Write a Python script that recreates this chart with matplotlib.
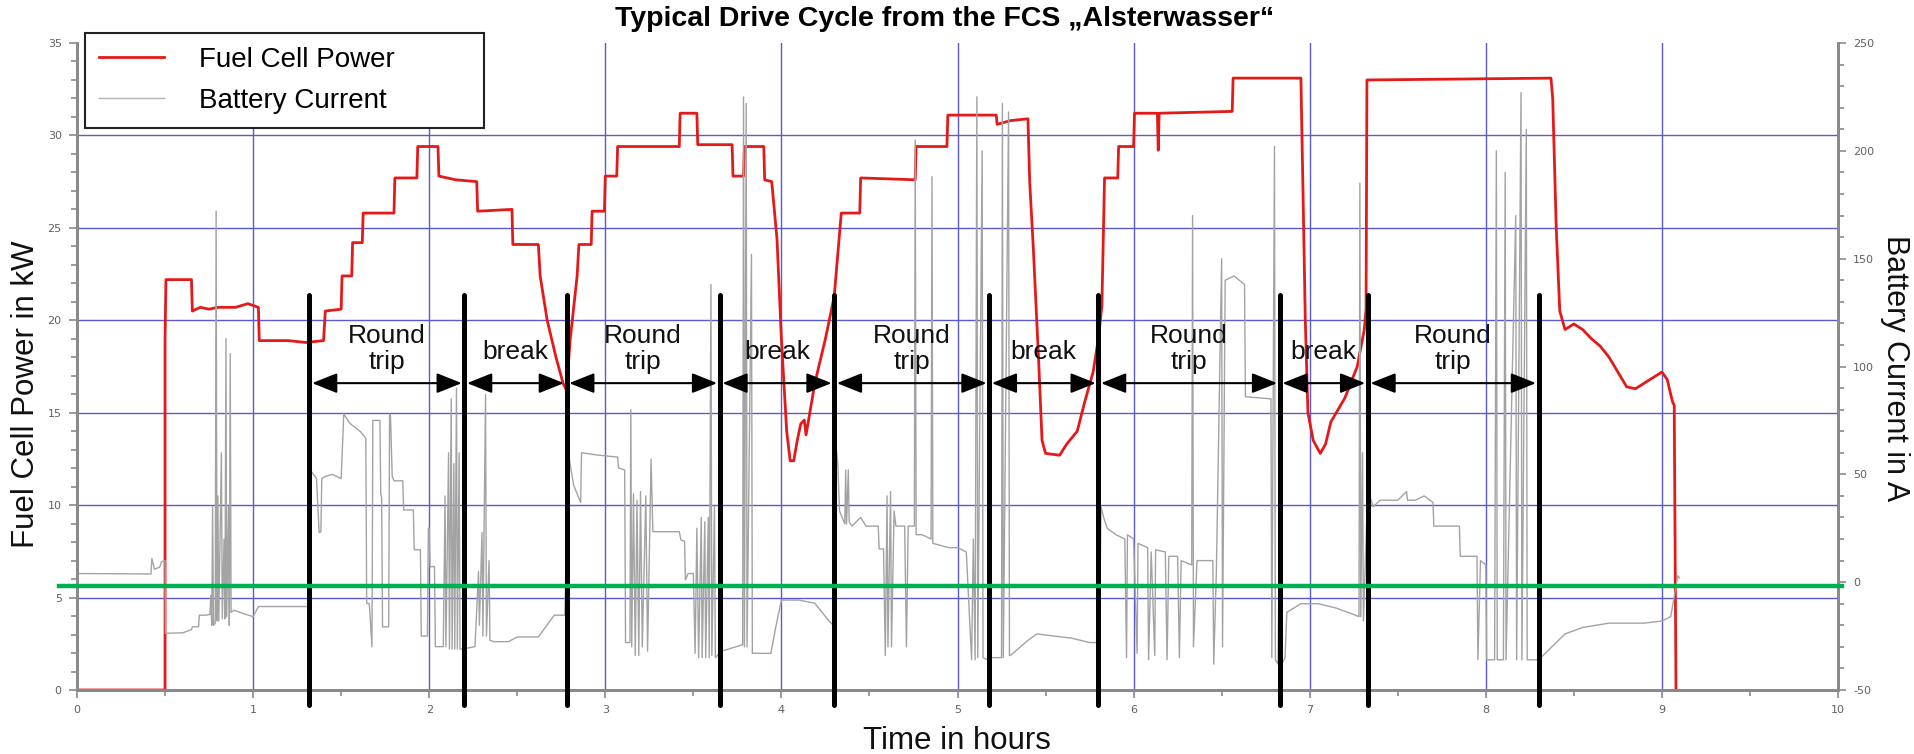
import matplotlib
matplotlib.use("Agg")
import matplotlib.pyplot as plt
from matplotlib import font_manager
from matplotlib.ticker import MultipleLocator

# ---- data ----
kw_ticks = [0, 5, 10, 15, 20, 25, 30, 35]
amp_ticks = [-50, 0, 50, 100, 150, 200, 250]
hour_ticks = [0, 1, 2, 3, 4, 5, 6, 7, 8, 9, 10]

# fuel cell power (kW) over time (h)
fc_time = [0, 0.50, 0.50, 0.505, 0.65, 0.655, 0.70, 0.75, 0.80, 0.90, 0.97, 1.03,
           1.035, 1.20, 1.30, 1.40, 1.41, 1.50, 1.505, 1.56, 1.565, 1.62, 1.625, 1.80,
           1.805, 1.93, 1.935, 2.05, 2.055, 2.15, 2.27, 2.275, 2.47, 2.475, 2.62, 2.63,
           2.67, 2.72, 2.76, 2.78, 2.80, 2.83, 2.84, 2.85, 2.92, 2.925, 2.995, 3.0,
           3.065, 3.07, 3.42, 3.425, 3.52, 3.525, 3.72, 3.725, 3.785, 3.79, 3.90, 3.905,
           3.945, 3.975, 4.00, 4.03, 4.05, 4.07, 4.09, 4.11, 4.13, 4.14, 4.19, 4.25,
           4.30, 4.34, 4.445, 4.45, 4.76, 4.765, 4.94, 4.945, 5.22, 5.225, 5.30, 5.40,
           5.41, 5.43, 5.46, 5.48, 5.50, 5.58, 5.62, 5.68, 5.72, 5.77, 5.80, 5.82,
           5.835, 5.91, 5.915, 6.0, 6.005, 6.135, 6.14, 6.145, 6.56, 6.565, 6.95, 6.96,
           6.975, 6.99, 7.02, 7.06, 7.09, 7.12, 7.20, 7.27, 7.31, 7.32, 7.325, 8.37,
           8.38, 8.40, 8.42, 8.45, 8.50, 8.55, 8.60, 8.65, 8.70, 8.75, 8.80, 8.85,
           8.90, 8.95, 9.00, 9.03, 9.06, 9.07, 9.08]
fc_power = [0, 0, 19.0, 22.2, 22.2, 20.5, 20.7, 20.6, 20.7, 20.7, 20.9, 20.7,
            18.9, 18.9, 18.8, 18.9, 20.5, 20.6, 22.4, 22.4, 24.2, 24.2, 25.8, 25.8,
            27.7, 27.7, 29.4, 29.4, 27.8, 27.6, 27.5, 25.9, 26.0, 24.1, 24.1, 22.4,
            20.0, 18.0, 16.6, 16.2, 18.9, 21.5, 22.4, 24.1, 24.1, 25.9, 25.9, 27.8,
            27.8, 29.4, 29.4, 31.2, 31.2, 29.5, 29.5, 27.8, 27.8, 29.4, 29.4, 27.6,
            27.5, 24.4, 19.0, 14.0, 12.4, 12.4, 13.5, 14.4, 14.6, 13.8, 16.6, 19.0,
            21.3, 25.8, 25.8, 27.7, 27.6, 29.4, 29.4, 31.1, 31.1, 30.6, 30.8, 30.9,
            27.5, 24.0, 18.0, 13.5, 12.8, 12.7, 13.3, 14.0, 15.5, 17.2, 19.0, 20.8,
            27.7, 27.7, 29.4, 29.4, 31.2, 31.2, 29.2, 31.2, 31.3, 33.1, 33.1, 28.0,
            20.0, 15.0, 13.5, 12.8, 13.3, 14.5, 15.8, 17.5, 19.5, 20.6, 33.0, 33.1,
            32.0, 25.0, 20.5, 19.5, 19.8, 19.5, 19.0, 18.6, 18.0, 17.2, 16.4, 16.3,
            16.6, 16.9, 17.2, 16.8, 15.6, 15.4, 0]

# battery current (A) over time (h)
bat_time = [0.0, 0.003, 0.42, 0.425, 0.44, 0.47, 0.48, 0.50, 0.502, 0.60, 0.65, 0.655,
            0.69, 0.695, 0.73, 0.755, 0.76, 0.765, 0.77, 0.775, 0.785, 0.79, 0.795, 0.80,
            0.805, 0.82, 0.825, 0.835, 0.84, 0.846, 0.85, 0.86, 0.865, 0.87, 0.875, 0.89,
            0.95, 1.0, 1.03, 1.31,
            1.325, 1.36, 1.375, 1.385, 1.39, 1.41, 1.45, 1.50, 1.515, 1.55, 1.61, 1.64,
            1.645, 1.66, 1.675, 1.68, 1.72, 1.725, 1.73, 1.735, 1.77, 1.775, 1.78, 1.79,
            1.80, 1.85, 1.855, 1.91, 1.915, 1.95, 1.955, 1.99, 1.995, 2.0, 2.005, 2.03,
            2.035, 2.08, 2.09, 2.095, 2.11, 2.115, 2.125, 2.13, 2.14, 2.145, 2.155, 2.16,
            2.17, 2.175, 2.19,
            2.26, 2.28, 2.285, 2.30, 2.305, 2.32, 2.325, 2.34, 2.345, 2.37, 2.45, 2.50,
            2.62, 2.71, 2.77,
            2.79, 2.82, 2.86, 2.865, 2.95, 3.07, 3.075, 3.11, 3.115, 3.14, 3.145, 3.15,
            3.16, 3.17, 3.18, 3.19, 3.20, 3.21, 3.23, 3.24, 3.26, 3.27, 3.42, 3.43,
            3.45, 3.455, 3.47, 3.50, 3.51, 3.52, 3.53, 3.545, 3.55, 3.565, 3.57, 3.585,
            3.59, 3.60, 3.605, 3.62, 3.625,
            3.66, 3.70, 3.78, 3.785, 3.79, 3.80, 3.805, 3.83, 3.835, 3.94, 3.97, 4.0,
            4.10, 4.19, 4.27, 4.295,
            4.305, 4.32, 4.33, 4.36, 4.365, 4.37, 4.38, 4.385, 4.40, 4.45, 4.48, 4.55,
            4.555, 4.58, 4.59, 4.60, 4.605, 4.62, 4.625, 4.64, 4.65, 4.70, 4.71, 4.72,
            4.755, 4.76, 4.765, 4.80, 4.85, 4.855, 4.86, 4.95, 5.0, 5.05, 5.08, 5.09,
            5.10, 5.11, 5.115, 5.14, 5.145, 5.17,
            5.20, 5.25, 5.255, 5.26, 5.29, 5.295, 5.30, 5.40, 5.45, 5.55, 5.65, 5.75,
            5.79,
            5.80, 5.805, 5.815, 5.83, 5.85, 5.90, 5.95, 5.96, 5.965, 6.00, 6.02, 6.025,
            6.08, 6.085, 6.10, 6.12, 6.125, 6.18, 6.19, 6.20, 6.25, 6.26, 6.27, 6.33,
            6.335, 6.34, 6.36, 6.45, 6.455, 6.47, 6.50, 6.505, 6.52, 6.57, 6.63, 6.635,
            6.78, 6.785, 6.80, 6.805, 6.82, 6.83,
            6.84, 6.86, 6.87, 6.95, 7.05, 7.15, 7.25, 7.28, 7.285, 7.29, 7.30, 7.305,
            7.33, 7.36, 7.40, 7.50, 7.55, 7.555, 7.60, 7.65, 7.70, 7.705, 7.85, 7.855,
            7.95, 7.955, 7.97, 8.0, 8.005, 8.05, 8.06, 8.065, 8.10, 8.11, 8.115, 8.17,
            8.175, 8.20, 8.205, 8.23, 8.235, 8.30,
            8.35, 8.45, 8.55, 8.70, 8.90, 9.0, 9.05, 9.08, 9.09, 9.10]
bat_current = [18, 4, 3.8, 11, 6, 7, 9.5, 10, -23.7, -23.5, -22, -20.7,
               -20.7, -15.3, -15.3, -15, -6, -20, 35, -20, -19, 172, -18, 40,
               -18, 60, -17, 20, -17, 113, -16, 35, -20, 106, -14, -13,
               -14.7, -16, -11.3, -11.3,
               52, 48, 23, 23.4, 48, 49, 50, 48, 78, 73.6, 69.8, 66.7,
               -9.8, -10, -30, 75, 75, 41, 39, -20.7, -20.7, 78, 77, 49,
               47, 47, 33.5, 33.5, 15, 15, -25, -25, 25, 25, 7.2, 7.2,
               -29.9, -29.9, 40, -30, 60, -31, 85, -31, 55, -31, 90, -31,
               60, -31, -31,
               -29.9, 5, -20, 23, -25, 87, -25, 10, -27, -27.6, -27.6, -25.4,
               -25.4, -15.3, -15.3,
               60, 45, 37, 60, 59, 58, 53, 52, -28, -28, 80, -30,
               41, -34, 38, -34, 42, -30, 40, -32, 57, 23.4, 23.4, 19.5,
               19, 1, 4, 4, -33, 25, -35, 30, -35, 28, -35, 30,
               -35, 138, -34, 35, -35,
               -32, -31, -29, 225, -30, 222, -30, 152, -33, -33, -20, -8.3,
               -8.3, -9.8, -18, -20,
               67.5, 55, 33, 27, 52, 27, 52, 28, 26, 30, 26, 26,
               15.4, 15.4, -34, 40, -30, 42, -30, 33, 26, 26, -30, 26,
               26, 205, 22, 22, 20, 188, 18, 16, 16, 14, -36, 20,
               -36, 225, -35, 200, -35, -36,
               -35, -35, 222, -35, 218, -34, -34, -27, -24, -25, -26, -28,
               -28,
               62, -30, 35, 30, 25, 22, 20, -35, 22, 20, -33, 18,
               16, -36, 14, -34, 15, 14, -36, 12, 12, -35, 10, 8,
               170, -30, 10, 10, -38, 5, 150, -30, 140, 142, 138, 86,
               85, -35, 202, -36, -38, 40,
               -38, -35, -14, -10, -10, -12, -15, -16, 185, -16, 60, -18,
               43, 35, 38, 38, 42, 38, 38, 40, 37, 26, 26, 12,
               12, -36, 10, 8, -36, -36, 200, -36, -36, 190, -36, 170,
               -36, 227, -36, 210, -36, -36,
               -32, -24, -21, -19, -19, -18, -16, -2, 3, 2]

# phase boundaries (h) and labels
phase_bounds = [1.32, 2.20, 2.78, 3.65, 4.30, 5.18, 5.80, 6.83, 7.33, 8.30]
phase_labels = ["Round\ntrip", "break", "Round\ntrip", "break", "Round\ntrip",
                "break", "Round\ntrip", "break", "Round\ntrip"]

zero_line_amp = -2

# ---- fonts ----
names = {f.name for f in font_manager.fontManager.ttflist}
sans = ["Liberation Sans", "DejaVu Sans"]
narrow = ["Liberation Sans Narrow"] + sans if "Liberation Sans Narrow" in names else sans
plt.rcParams["font.family"] = sans
plt.rcParams["axes.unicode_minus"] = False

fig = plt.figure(figsize=(19.15, 7.54), dpi=100)
ax = fig.add_axes([77 / 1915, 64 / 754, 1761 / 1915, 647 / 754])
ax2 = ax.twinx()

grid_c = "#5a5ad0"
axis_c = "#8a8a8a"
tick_c = "#606060"

ax.set_xlim(0, 10)
ax.set_ylim(0, 35)
ax2.set_ylim(-50, 250)

for v in kw_ticks[1:-1]:
    ax.axhline(v, color=grid_c, lw=1.0, zorder=0)
for v in hour_ticks[1:-1]:
    ax.axvline(v, color=grid_c, lw=1.0, zorder=0)

ax.plot(fc_time, fc_power, color="#e41a1a", lw=2.0, zorder=3)
ax2.plot(bat_time, bat_current, color="#a3a3a3", lw=1.0, zorder=2)

# axes styling
for a in (ax, ax2):
    a.spines["top"].set_visible(False)
    for s in ("left", "right", "bottom"):
        a.spines[s].set_color(axis_c)
        a.spines[s].set_linewidth(2)
ax.set_xticks(hour_ticks)
ax.set_yticks(kw_ticks)
ax2.set_yticks(amp_ticks)
ax.xaxis.set_minor_locator(MultipleLocator(0.5))
ax.yaxis.set_minor_locator(MultipleLocator(1))
ax2.yaxis.set_minor_locator(MultipleLocator(10))
for a in (ax, ax2):
    a.tick_params(which="major", direction="out", length=6, width=1.2,
                  color=axis_c, labelcolor=tick_c, labelsize=8, pad=5)
    a.tick_params(which="minor", direction="out", length=4, width=1.2, color=axis_c)
for lab in ax.get_xticklabels() + ax.get_yticklabels() + ax2.get_yticklabels():
    lab.set_family(["DejaVu Sans"])

# phase markers, arrows and labels (kW coordinates, drawn above the data)
tr = ax.transData
for xb in phase_bounds:
    ax2.plot([xb, xb], [-0.8, 21.35], transform=tr, color="black", lw=3.6,
             solid_capstyle="round", clip_on=False, zorder=6)
for i, lab in enumerate(phase_labels):
    x0, x1 = phase_bounds[i], phase_bounds[i + 1]
    ax2.annotate("", xy=(x1 - 0.015, 16.6), xytext=(x0 + 0.015, 16.6),
                 xycoords=tr, textcoords=tr,
                 arrowprops=dict(arrowstyle="<|-|>,head_length=0.55,head_width=0.22",
                                 mutation_scale=28, color="black", lw=1.5,
                                 shrinkA=0, shrinkB=0), zorder=6)
    ypos = 18.45 if "\n" in lab else 18.3
    ax2.text((x0 + x1) / 2, ypos, lab, transform=tr, ha="center", va="center",
             fontsize=19, linespacing=1.1, color="#111111", zorder=7)

ax2.plot([-0.1, 10.02], [zero_line_amp, zero_line_amp], color="#00b050", lw=3.2,
         clip_on=False, zorder=8)

# legend
h1, = ax.plot([], [], color="#e41a1a", lw=2.0)
h2, = ax.plot([], [], color="#b5b5b5", lw=1.0)
leg = fig.legend([h1, h2], ["Fuel Cell Power", "Battery Current"],
                 loc="upper left", bbox_to_anchor=(85 / 1915, 1 - 128 / 754, 399 / 1915, 95 / 754),
                 mode="expand", borderaxespad=0, fontsize=20, frameon=True, fancybox=False,
                 framealpha=1, edgecolor="#222222", handlelength=2.35, handletextpad=1.25,
                 labelspacing=0.55, borderpad=0.5)
leg.get_frame().set_linewidth(1.5)

# titles and axis labels
fig.text(945 / 1915, 1 - 19 / 754, "Typical Drive Cycle from the FCS \u201eAlsterwasser\u201c",
         ha="center", va="center", fontsize=20.5, fontweight="bold", family=narrow)
fig.text(26 / 1915, 1 - 394 / 754, "Fuel Cell Power in kW", rotation=90,
         ha="center", va="center", fontsize=22.5, color="#111111")
fig.text(1895 / 1915, 1 - 368 / 754, "Battery Current in A", rotation=270,
         ha="center", va="center", fontsize=22, color="#111111")
fig.text(957 / 1915, 1 - 741 / 754, "Time in hours", ha="center", va="center",
         fontsize=22.5, color="#111111")

fig.savefig("out.png", dpi=100)
